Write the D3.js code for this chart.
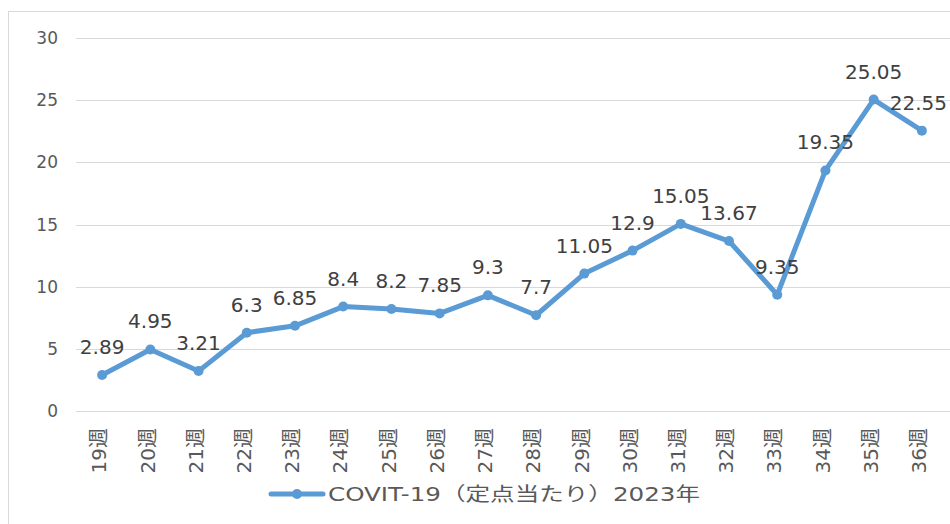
<!DOCTYPE html>
<html>
<head>
<meta charset="utf-8">
<script src="https://cdn.jsdelivr.net/npm/d3@7"></script>
<style>
  body { margin: 0; background: #fff; }
  svg { display: block; }
  text { font-family: "DejaVu Sans", "Noto Sans CJK JP", sans-serif; }
</style>
</head>
<body>
<svg id="chart" width="950" height="524"></svg>
<script>
    var weeks = ["19週", "20週", "21週", "22週", "23週", "24週", "25週", "26週", "27週",
        "28週", "29週", "30週", "31週", "32週", "33週", "34週", "35週", "36週"];
    var values = [2.89, 4.95, 3.21, 6.3, 6.85, 8.4, 8.2, 7.85, 9.3,
        7.7, 11.05, 12.9, 15.05, 13.67, 9.35, 19.35, 25.05, 22.55];
    var yTicks = [0, 5, 10, 15, 20, 25, 30];
    var seriesName = "COVIT-19（定点当たり）2023年";

    var blue = "#5b9bd5",
        grid = "#d9d9d9",
        textColor = "#595959";

    var svg = d3.select("#chart");

    // outer frame of the chart area
    svg.append("rect")
        .attr("x", 8.5)
        .attr("y", 11.5)
        .attr("width", 960)
        .attr("height", 540)
        .attr("fill", "none")
        .attr("stroke", grid);

    var x = d3.scaleBand()
        .domain(weeks)
        .range([78, 946]);

    var y = d3.scaleLinear()
        .domain([0, 30])
        .range([411, 38]);

    function cx(d, i) { return x(weeks[i]) + x.bandwidth() / 2; }

    // gridlines
    svg.append("g").selectAll("line")
        .data(yTicks)
        .enter().append("line")
        .attr("x1", 76)
        .attr("x2", 950)
        .attr("y1", function(d) { return Math.round(y(d)) + 0.5; })
        .attr("y2", function(d) { return Math.round(y(d)) + 0.5; })
        .attr("stroke", grid)
        .attr("stroke-width", 1);

    // y tick labels
    svg.append("g").selectAll("text")
        .data(yTicks)
        .enter().append("text")
        .attr("x", 58)
        .attr("y", function(d) { return y(d); })
        .attr("dy", "0.36em")
        .attr("text-anchor", "end")
        .attr("font-size", 17)
        .attr("fill", textColor)
        .text(function(d) { return d; });

    // x labels, rotated
    svg.append("g").selectAll("text")
        .data(weeks)
        .enter().append("text")
        .attr("transform", function(d) {
            return "translate(" + (x(d) + x.bandwidth() / 2 - 3) + ",428) rotate(-90)";
        })
        .attr("dy", "0.36em")
        .attr("text-anchor", "end")
        .attr("font-size", 20)
        .attr("fill", textColor)
        .text(function(d) { return d; });

    // series line
    var line = d3.line()
        .x(cx)
        .y(function(d) { return y(d); });

    svg.append("path")
        .datum(values)
        .attr("d", line)
        .attr("fill", "none")
        .attr("stroke", blue)
        .attr("stroke-width", 5)
        .attr("stroke-linejoin", "round")
        .attr("stroke-linecap", "round");

    svg.append("g").selectAll("circle")
        .data(values)
        .enter().append("circle")
        .attr("cx", cx)
        .attr("cy", function(d) { return y(d); })
        .attr("r", 5)
        .attr("fill", blue);

    // data labels, kept inside the frame on the right
    var labels = svg.append("g").selectAll("text")
        .data(values)
        .enter().append("text")
        .attr("x", cx)
        .attr("y", function(d) { return y(d) - 21; })
        .attr("text-anchor", "middle")
        .attr("font-size", 20)
        .attr("fill", "#404040")
        .text(function(d) { return d; });

    labels.each(function(d, i) {
        var t = d3.select(this);
        var w = this.getComputedTextLength();
        var px = cx(d, i);
        if (px + w / 2 > 947) t.attr("x", 947 - w / 2);
    });

    // legend
    var legend = svg.append("g");
    legend.append("line")
        .attr("x1", 271)
        .attr("x2", 323)
        .attr("y1", 494)
        .attr("y2", 494)
        .attr("stroke", blue)
        .attr("stroke-width", 5)
        .attr("stroke-linecap", "round");
    legend.append("circle")
        .attr("cx", 297)
        .attr("cy", 494)
        .attr("r", 5)
        .attr("fill", blue);
    legend.append("text")
        .attr("x", 328)
        .attr("y", 501)
        .attr("font-size", 19)
        .attr("fill", textColor)
        .attr("textLength", 372)
        .attr("lengthAdjust", "spacingAndGlyphs")
        .text(seriesName);
</script>
</body>
</html>
